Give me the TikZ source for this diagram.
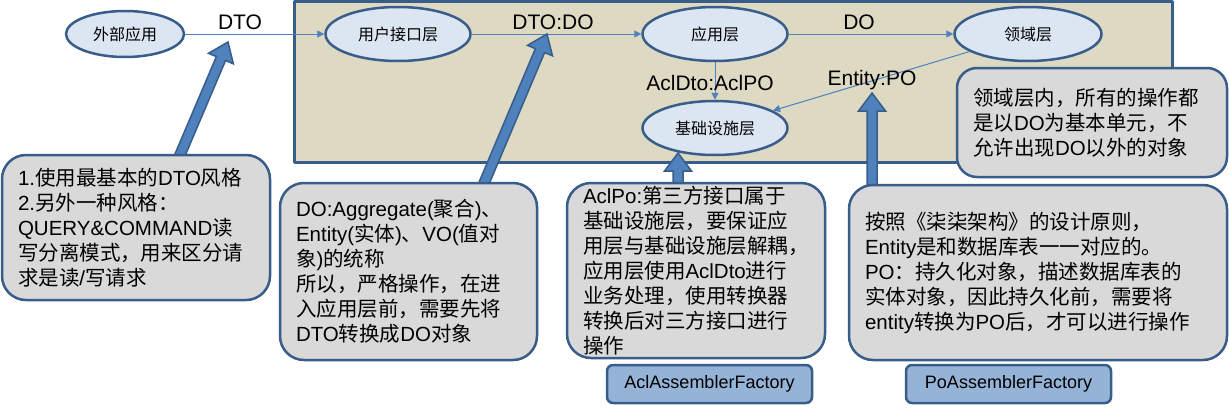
\documentclass[tikz,border=0pt]{standalone}
\usepackage{fontspec}
\setmainfont{Liberation Sans}
\newfontfamily\cjk{Noto Sans CJK SC}
\usetikzlibrary{shapes.geometric,arrows.meta,calc}
% Chinese runs switch to the CJK family by themselves
\XeTeXinterchartokenstate=1
\newXeTeXintercharclass\hanclass
\count255="3000
\loop\XeTeXcharclass\count255=\hanclass \ifnum\count255<"9FFF \advance\count255 by 1 \repeat
\count255="FF00
\loop\XeTeXcharclass\count255=\hanclass \ifnum\count255<"FFEF \advance\count255 by 1 \repeat
\XeTeXinterchartoks 0 \hanclass = {\begingroup\cjk}
\XeTeXinterchartoks 4095 \hanclass = {\begingroup\cjk}
\XeTeXinterchartoks \hanclass 0 = {\endgroup}
\XeTeXinterchartoks \hanclass 4095 = {\endgroup}
\definecolor{frameblue}{HTML}{385D8A}
\definecolor{layerfill}{HTML}{DCE6F2}
\definecolor{zonefill}{HTML}{DDD9C3}
\definecolor{notefill}{HTML}{D9D9D9}
\definecolor{linkblue}{HTML}{4F81BD}
\definecolor{factfill}{HTML}{95B3D7}
\tikzset{
	layer/.style={ellipse, draw=frameblue, line width=2.5pt, fill=layerfill, minimum width=145, minimum height=54, inner sep=0pt, font=\fontsize{16}{19}\selectfont},
	note/.style={rounded corners=24pt, draw=frameblue, line width=2.5pt, fill=notefill, align=left, inner xsep=16pt, inner ysep=1pt, font=\fontsize{20.5}{25}\selectfont},
	factory/.style={rounded corners=6pt, draw=frameblue, line width=2.5pt, fill=factfill, minimum width=205, minimum height=38, font=\fontsize{18}{21}\selectfont},
	tag/.style={inner sep=0pt, font=\fontsize{21}{24}\selectfont},
	link/.style={->, draw=linkblue, line width=1pt},
	fatarrow/.style={fill=linkblue, draw=frameblue, line width=1.5pt, line join=miter}
}
\newcommand\blockarrow[2]{%
	\coordinate (h) at ($(#2)!18pt!(#1)$);
	\draw[fatarrow] ($(#1)!5pt!90:(#2)$) -- ($(h)!5pt!90:(#2)$) -- ($(h)!13.5pt!90:(#2)$) -- (#2)
		-- ($(h)!13.5pt!-90:(#2)$) -- ($(h)!5pt!-90:(#2)$) -- ($(#1)!5pt!-90:(#2)$) -- cycle;
}
\begin{document}
\begin{tikzpicture}[x=1pt, y=-1pt, >={Triangle[length=7pt,width=7pt]}, line join=round]
				\useasboundingbox (0,0) rectangle (1229,407);
				\draw[draw=frameblue, fill=zonefill, line width=3pt] (294,1.5) rectangle (1172,162);
				\node[layer, minimum width=118, minimum height=46] (ext) at (125,34) {外部应用};
				\node[layer] (ui) at (398,34) {用户接口层};
				\node[layer] (app) at (715,34) {应用层};
				\node[layer, minimum width=147] (dom) at (1028,34) {领域层};
				\node[layer] (infra) at (715,128) {基础设施层};
				\draw[link] (ext) -- (ui);
				\draw[link] (ui) -- (app);
				\draw[link] (app) -- (dom);
				\draw[link] (app) -- (infra);
				\draw[link] (dom) -- (infra);
				\node[tag] (dto) at (240,22) {DTO};
				\node[tag] (dtodo) at (553,22) {DTO:DO};
				\node[tag] (do) at (859,22) {DO};
				\node[tag] (acl) at (710,83) {AclDto:AclPO};
				\node[tag] (entity) at (872,80) {Entity:PO};
%				tails go under the notes
				\coordinate (a1s) at (177,162);
				\coordinate (a1e) at (228,42);
				\coordinate (a2s) at (482,188);
				\coordinate (a2e) at (547,34);
				\coordinate (a3s) at (678,190);
				\coordinate (a3e) at (678,153);
				\coordinate (a4s) at (872,192);
				\coordinate (a4e) at (872,93);
				\blockarrow{a1s}{a1e}
				\blockarrow{a2s}{a2e}
				\blockarrow{a3s}{a3e}
				\blockarrow{a4s}{a4e}
				\node[note, text width=236, minimum width=268, minimum height=145] (n1) at (136,227.5) {1.使用最基本的DTO风格\\2.另外一种风格：\\QUERY\&COMMAND读\\写分离模式，用来区分请\\求是读/写请求};
				\node[note, text width=225, minimum width=257, minimum height=177] (n2) at (408.5,271.5) {DO:Aggregate(聚合)、\\Entity(实体)、VO(值对\\象)的统称\\所以，严格操作，在进\\入应用层前，需要先将\\DTO转换成DO对象};
				\node[note, text width=226, minimum width=258, minimum height=175] (n3) at (696,270.5) {AclPo:第三方接口属于\\基础设施层，要保证应\\用层与基础设施层解耦，\\应用层使用AclDto进行\\业务处理，使用转换器\\转换后对三方接口进行\\操作};
				\node[note, text width=346, minimum width=378, minimum height=175] (n4) at (1038,272.5) {按照《柒柒架构》的设计原则，\\Entity是和数据库表一一对应的。\\PO：持久化对象，描述数据库表的\\实体对象，因此持久化前，需要将\\entity转换为PO后，才可以进行操作};
				\node[note, rounded corners=20pt, text width=238, minimum width=270, minimum height=109] (n5) at (1092,122.5) {领域层内，所有的操作都\\是以DO为基本单元，不\\允许出现DO以外的对象};
				\node[factory] (f1) at (709.5,384) {AclAssemblerFactory};
				\node[factory] (f2) at (1008.5,384) {PoAssemblerFactory};
\end{tikzpicture}
\end{document}
